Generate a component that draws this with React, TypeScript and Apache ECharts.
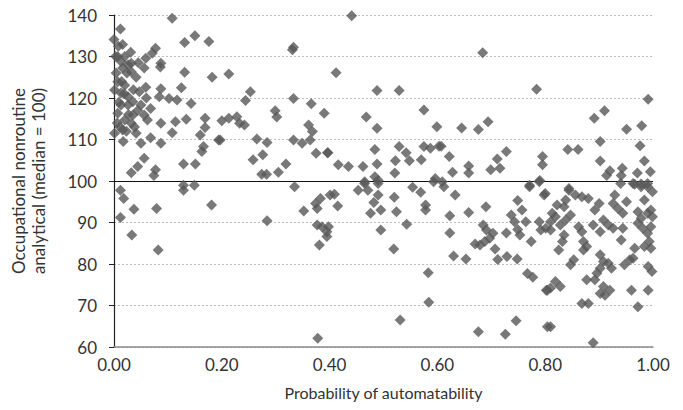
import React, { useEffect, useRef } from "react";
import * as echarts from "echarts";

// Probability of automatability (x) vs occupational nonroutine analytical index (y)
const lowRisk: [number, number][] = [
  [0.108, 139.2], [0.012, 136.6], [0.15, 135.0], [0.131, 133.4], [0.176, 133.6], [0.0, 134.1],
  [0.016, 132.9], [0.031, 131.0], [0.077, 132.0], [0.071, 130.8], [0.059, 129.6], [0.007, 130.0],
  [0.013, 128.8], [0.087, 128.4], [0.086, 127.5], [0.032, 128.4], [0.056, 127.2], [0.016, 127.2],
  [0.032, 126.3], [0.131, 126.2], [0.182, 125.0], [0.007, 123.9], [0.001, 121.9], [0.02, 123.1],
  [0.059, 122.6], [0.125, 122.5], [0.087, 122.2], [0.013, 121.2], [0.026, 120.3], [0.047, 121.5],
  [0.084, 120.3], [0.102, 119.9], [0.117, 119.5], [0.143, 118.7], [0.035, 119.1], [0.013, 118.3],
  [0.026, 118.3], [0.05, 118.3], [0.068, 117.5], [0.007, 116.3], [0.035, 115.9], [0.056, 115.9],
  [0.02, 114.7], [0.032, 113.9], [0.169, 115.1], [0.134, 114.9], [0.087, 113.9], [0.114, 114.3],
  [0.062, 114.7], [0.169, 112.9], [0.001, 111.5], [0.016, 112.3], [0.041, 111.5], [0.108, 111.6],
  [0.16, 111.1], [0.194, 109.9], [0.05, 109.1], [0.068, 110.4], [0.087, 109.1], [0.166, 108.3],
  [0.163, 107.1], [0.056, 105.5], [0.044, 103.5], [0.032, 102.0], [0.077, 102.7], [0.074, 101.3],
  [0.129, 104.1], [0.151, 104.1], [0.004, 126.0], [0.009, 119.0], [0.014, 124.0], [0.019, 121.0],
  [0.024, 126.0], [0.027, 116.0], [0.006, 114.0], [0.011, 113.0], [0.017, 109.5], [0.023, 112.0],
  [0.036, 122.0], [0.041, 125.0], [0.044, 117.0], [0.038, 113.0], [0.003, 130.0], [0.008, 132.5],
  [0.02, 130.0], [0.026, 128.0], [0.2, 114.5], [0.06, 120.0], [0.045, 128.5],
  [0.129, 99.0], [0.129, 97.8], [0.149, 99.0], [0.012, 97.8], [0.018, 95.8], [0.037, 93.2],
  [0.079, 93.4], [0.181, 94.2], [0.012, 91.2], [0.033, 87.0], [0.082, 83.4],
];

const midRisk: [number, number][] = [
  [0.331, 131.6], [0.333, 132.2], [0.213, 125.8], [0.253, 121.5], [0.244, 119.4], [0.333, 119.9],
  [0.366, 118.6], [0.39, 116.3], [0.213, 115.1], [0.228, 115.5], [0.233, 113.9], [0.242, 113.5],
  [0.299, 116.9], [0.302, 115.4], [0.361, 113.5], [0.368, 111.9], [0.364, 109.9], [0.197, 109.9],
  [0.265, 110.1], [0.284, 109.3], [0.333, 109.9], [0.349, 109.1], [0.375, 106.7], [0.396, 106.8],
  [0.276, 106.3], [0.258, 105.1], [0.319, 104.1], [0.305, 102.1], [0.274, 101.6], [0.283, 101.6],
  [0.335, 98.6], [0.374, 94.6], [0.383, 95.8], [0.377, 93.4], [0.352, 92.8], [0.284, 90.4],
  [0.377, 89.4], [0.386, 89.0], [0.395, 87.8], [0.381, 84.6], [0.378, 62.1], [0.401, 96.6],
  [0.441, 139.8], [0.412, 126.1], [0.488, 121.8], [0.529, 121.8], [0.575, 117.1], [0.468, 115.4],
  [0.488, 112.7], [0.599, 113.1], [0.397, 106.8], [0.484, 107.6], [0.529, 108.3], [0.575, 108.3],
  [0.587, 107.9], [0.603, 108.4], [0.542, 106.8], [0.548, 104.9], [0.416, 103.9], [0.435, 103.5],
  [0.462, 103.5], [0.488, 104.1], [0.522, 104.9], [0.57, 105.1], [0.521, 101.9], [0.484, 101.0],
  [0.49, 100.2], [0.465, 99.8], [0.593, 99.8], [0.465, 99.4], [0.471, 97.8], [0.453, 97.8],
  [0.49, 99.4], [0.554, 98.5], [0.569, 97.3], [0.409, 96.8], [0.415, 94.0], [0.49, 96.6],
  [0.482, 94.8], [0.52, 96.1], [0.578, 94.2], [0.578, 93.0], [0.476, 92.2], [0.495, 93.0],
  [0.524, 92.6], [0.398, 89.0], [0.395, 86.6], [0.495, 88.2], [0.543, 89.6], [0.519, 83.6],
  [0.583, 77.9], [0.584, 70.8], [0.531, 66.5],
];

const highRisk: [number, number][] = [
  [0.684, 130.9], [0.784, 122.1], [0.645, 112.8], [0.676, 112.4], [0.694, 114.3], [0.607, 108.4],
  [0.622, 105.9], [0.628, 102.1], [0.658, 103.6], [0.658, 101.9], [0.711, 105.3], [0.728, 107.1],
  [0.699, 102.7], [0.716, 103.1], [0.795, 105.9], [0.795, 103.9], [0.79, 100.1], [0.771, 99.0],
  [0.596, 100.6], [0.609, 99.8], [0.612, 98.6], [0.633, 96.6], [0.771, 98.6], [0.789, 99.8],
  [0.798, 96.6], [0.69, 93.8], [0.658, 92.4], [0.623, 91.6], [0.749, 95.3], [0.757, 93.0],
  [0.737, 91.8], [0.743, 90.2], [0.764, 90.2], [0.789, 90.2], [0.792, 88.2], [0.685, 89.4],
  [0.691, 88.2], [0.623, 87.5], [0.728, 87.5], [0.749, 88.3], [0.753, 87.0], [0.703, 87.4],
  [0.697, 86.2], [0.688, 85.4], [0.679, 84.6], [0.67, 84.8], [0.774, 85.4], [0.707, 83.6],
  [0.63, 81.9], [0.653, 81.2], [0.712, 81.1], [0.729, 81.8], [0.748, 81.2], [0.767, 77.7],
  [0.777, 76.8], [0.802, 73.7], [0.746, 66.3], [0.676, 63.7], [0.726, 63.1], [0.804, 64.9],
  [0.991, 119.7], [0.91, 116.9], [0.891, 115.1], [0.951, 112.5], [0.979, 113.3], [0.902, 109.5],
  [0.842, 107.6], [0.861, 107.6], [0.976, 108.5], [0.902, 104.8], [0.984, 104.8], [0.92, 102.5],
  [0.914, 101.3], [0.943, 103.1], [0.941, 101.3], [0.94, 99.4], [0.971, 101.9], [0.995, 102.2],
  [0.963, 99.4], [0.978, 99.3], [0.99, 99.4], [0.844, 98.2], [0.8, 97.0], [0.844, 97.8],
  [0.856, 96.6], [0.868, 96.2], [0.88, 95.8], [0.966, 99.2], [0.978, 98.6], [0.99, 98.6],
  [0.999, 97.4], [0.929, 96.6], [0.926, 94.6], [0.935, 93.4], [0.951, 95.0], [0.984, 95.4],
  [0.9, 94.6], [0.892, 93.0], [0.822, 94.2], [0.835, 93.8], [0.838, 95.4], [0.813, 92.2],
  [0.819, 91.4], [0.81, 90.2], [0.847, 91.8], [0.838, 90.6], [0.828, 89.4], [0.944, 92.2],
  [0.972, 92.6], [0.978, 91.0], [0.99, 92.2], [0.999, 91.4], [0.996, 93.0], [0.972, 89.8],
  [0.981, 88.6], [0.99, 87.4], [0.996, 89.0], [0.908, 90.6], [0.917, 89.4], [0.926, 88.6],
  [0.889, 89.4], [0.902, 87.8], [0.944, 88.6], [0.801, 88.6], [0.81, 88.2], [0.862, 89.0],
  [0.868, 87.8], [0.835, 87.0], [0.832, 85.4], [0.825, 83.4], [0.871, 85.4], [0.877, 84.2],
  [0.871, 83.4], [0.941, 85.8], [0.993, 85.4], [0.996, 83.8], [0.984, 84.2], [0.966, 83.8],
  [0.902, 82.2], [0.908, 80.6], [0.917, 80.2], [0.923, 79.0], [0.902, 79.0], [0.896, 77.8],
  [0.892, 76.2], [0.853, 81.0], [0.847, 79.8], [0.947, 79.8], [0.957, 81.0], [0.963, 81.4],
  [0.991, 79.4], [0.998, 78.2], [0.819, 75.8], [0.828, 74.6], [0.81, 74.2], [0.804, 73.7],
  [0.877, 76.2], [0.908, 74.6], [0.92, 73.7], [0.911, 72.5], [0.902, 72.9], [0.96, 73.7],
  [0.991, 73.7], [0.868, 70.5], [0.88, 70.5], [0.972, 69.7], [0.81, 64.9], [0.889, 61.0],
];

const xTicks = { min: 0, max: 1, interval: 0.2 };
const yTicks = { min: 60, max: 140, interval: 10 };
const medianLevel = 100;

const FONT = "Lato, 'Open Sans', sans-serif";
const MARK = "#575757";

export default function App() {
  const ref = useRef<HTMLDivElement>(null);
  useEffect(() => {
    if (!ref.current) return;
    const chart = echarts.init(ref.current, undefined, { renderer: "svg" });
    chart.setOption({
      animation: false,
      textStyle: { fontFamily: FONT },
      grid: { left: 106, right: 30, top: 15, bottom: 63 },
      xAxis: {
        type: "value",
        min: xTicks.min,
        max: xTicks.max,
        interval: xTicks.interval,
        name: "Probability of automatability",
        nameLocation: "middle",
        nameGap: 37,
        nameTextStyle: { fontSize: 16, color: "#333", fontFamily: FONT },
        axisLine: { show: true, lineStyle: { color: "#8a8a8a", width: 1.5 } },
        axisTick: { show: false },
        splitLine: { show: false },
        axisLabel: {
          fontSize: 17,
          color: "#333",
          margin: 9,
          fontFamily: FONT,
          formatter: (v: number) => v.toFixed(2),
        },
      },
      yAxis: {
        type: "value",
        min: yTicks.min,
        max: yTicks.max,
        interval: yTicks.interval,
        name: "Occupational nonroutine\nanalytical (median = 100)",
        nameLocation: "middle",
        nameGap: 66,
        nameRotate: 90,
        nameTextStyle: { fontSize: 17, color: "#333", lineHeight: 20, fontFamily: FONT },
        axisLine: { show: true, lineStyle: { color: "#222", width: 1.2 } },
        axisTick: { show: true, inside: false, length: 5, lineStyle: { color: "#222" } },
        splitLine: { show: true, lineStyle: { color: "#bdbdbd", type: [2, 2], width: 1 } },
        axisLabel: { fontSize: 17, color: "#333", margin: 17, fontFamily: FONT },
      },
      series: [
        {
          type: "scatter",
          symbol: "diamond",
          symbolSize: 11,
          itemStyle: { color: MARK },
          data: [...lowRisk, ...midRisk, ...highRisk],
          markLine: {
            silent: true,
            symbol: "none",
            label: { show: false },
            lineStyle: { color: "#111", type: "solid", width: 1.2 },
            data: [{ yAxis: medianLevel }],
            z: 1,
          },
        },
      ],
    });
    return () => chart.dispose();
  }, []);
  return (
    <div
      ref={ref}
      style={{ position: "absolute", left: 0, top: 0, width: 683, height: 410 }}
    />
  );
}
